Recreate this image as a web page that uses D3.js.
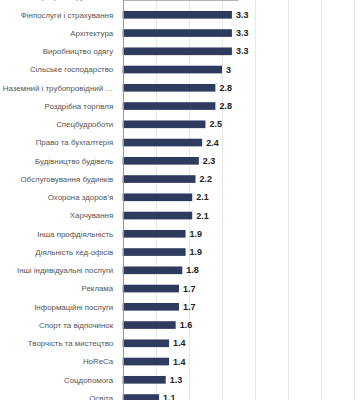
<!DOCTYPE html>
<html>
<head>
<meta charset="utf-8">
<script src="https://cdn.jsdelivr.net/npm/d3@7"></script>
<style>
  html, body { margin: 0; padding: 0; background: #fff; overflow: hidden; }
  svg { display: block; font-family: "Liberation Sans", Arial, sans-serif; }
</style>
</head>
<body>
<div id="chart"></div>
<script>
// rows in display order, first one is cut off at the top of the crop
var categories = [
    "Операції з нерухомістю",
    "Фінпослуги і страхування",
    "Архітектура",
    "Виробництво одягу",
    "Сільське господарство",
    "Наземний і трубопровідний …",
    "Роздрібна торгівля",
    "Спецбудроботи",
    "Право та бухгалтерія",
    "Будівництво будівель",
    "Обслуговування будинків",
    "Охорона здоров’я",
    "Харчування",
    "Інша профдіяльність",
    "Діяльність хед-офісів",
    "Інші індивідуальні послуги",
    "Реклама",
    "Інформаційні послуги",
    "Спорт та відпочинок",
    "Творчість та мистецтво",
    "HoReCa",
    "Соцдопомога",
    "Освіта"
];
var values = [3.5, 3.3, 3.3, 3.3, 3, 2.8, 2.8, 2.5, 2.4, 2.3, 2.2, 2.1, 2.1, 1.9, 1.9, 1.8, 1.7, 1.7, 1.6, 1.4, 1.4, 1.3, 1.1];
var gridTicks = [1, 2, 3, 4, 5, 6, 7, 8];

var width = 360, height = 400;
var rowStep = 18.25;
var firstCenter = -3.45;

var svg = d3.select("#chart").append("svg")
    .attr("width", width)
    .attr("height", height);

var x = d3.scaleLinear()
    .domain([0, 8])
    .range([122.7, 387.5]);

var y = d3.scaleBand()
    .domain(categories)
    .range([firstCenter - rowStep / 2, firstCenter - rowStep / 2 + rowStep * categories.length])
    .padding(0);

var barH = y.bandwidth() * 0.42;

//vertical gridlines
svg.append("g")
    .selectAll("line")
    .data(gridTicks)
    .enter().append("line")
    .attr("x1", function(d) { return Math.round(x(d)) + 0.5; })
    .attr("x2", function(d) { return Math.round(x(d)) + 0.5; })
    .attr("y1", 0)
    .attr("y2", height)
    .style("stroke", "#e8e8e8")
    .style("stroke-width", 1);

var rows = svg.append("g")
    .selectAll("g")
    .data(categories)
    .enter().append("g");

rows.append("rect")
    .attr("x", x(0))
    .attr("y", function(d) { return y(d) + (y.bandwidth() - barH) / 2; })
    .attr("width", function(d, i) { return x(values[i]) - x(0); })
    .attr("height", barH)
    .style("fill", "#2e3b5e");

rows.append("text")
    .attr("x", function(d, i) { return x(values[i]) + 4; })
    .attr("y", function(d) { return y(d) + y.bandwidth() / 2; })
    .attr("dy", "0.35em")
    .style("font-size", "9px")
    .style("font-weight", "bold")
    .style("fill", "#222")
    .text(function(d, i) { return values[i]; });

rows.append("text")
    .attr("x", x(0) - 9.5)
    .attr("y", function(d) { return y(d) + y.bandwidth() / 2; })
    .attr("dy", "0.35em")
    .attr("text-anchor", "end")
    .style("font-size", "7.9px")
    .style("fill", "#555")
    .text(function(d) { return d; });

//axis line
svg.append("line")
    .attr("x1", Math.round(x(0)) + 0.5)
    .attr("x2", Math.round(x(0)) + 0.5)
    .attr("y1", 0)
    .attr("y2", height)
    .style("stroke", "#999")
    .style("stroke-width", 1);
</script>
</body>
</html>
